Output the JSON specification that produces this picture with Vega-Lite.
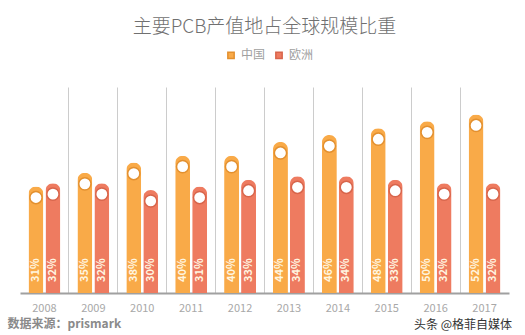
{
  "$schema": "https://vega.github.io/schema/vega-lite/v6.json",
  "width": 489,
  "height": 206,
  "autosize": {"type": "none"},
  "padding": {"left": 20, "top": 87, "right": 16, "bottom": 42},
  "background": "white",
  "config": {"view": {"stroke": null}, "font": "Noto Sans CJK SC"},
  "title": {
    "text": "主要PCB产值地占全球规模比重",
    "fontSize": 19,
    "fontWeight": 300,
    "color": "#707070",
    "anchor": "middle",
    "offset": 12,
    "font": "Noto Sans CJK SC"
  },
  "data": {
    "values": [
      {"year": "2008", "region": "中国", "value": 31},
      {"year": "2008", "region": "欧洲", "value": 32},
      {"year": "2009", "region": "中国", "value": 35},
      {"year": "2009", "region": "欧洲", "value": 32},
      {"year": "2010", "region": "中国", "value": 38},
      {"year": "2010", "region": "欧洲", "value": 30},
      {"year": "2011", "region": "中国", "value": 40},
      {"year": "2011", "region": "欧洲", "value": 31},
      {"year": "2012", "region": "中国", "value": 40},
      {"year": "2012", "region": "欧洲", "value": 33},
      {"year": "2013", "region": "中国", "value": 44},
      {"year": "2013", "region": "欧洲", "value": 34},
      {"year": "2014", "region": "中国", "value": 46},
      {"year": "2014", "region": "欧洲", "value": 34},
      {"year": "2015", "region": "中国", "value": 48},
      {"year": "2015", "region": "欧洲", "value": 33},
      {"year": "2016", "region": "中国", "value": 50},
      {"year": "2016", "region": "欧洲", "value": 32},
      {"year": "2017", "region": "中国", "value": 52},
      {"year": "2017", "region": "欧洲", "value": 32}
    ]
  },
  "encoding": {
    "x": {
      "field": "year",
      "type": "nominal",
      "scale": {"paddingInner": 0, "paddingOuter": 0},
      "axis": {
        "title": "数据来源：prismark",
        "titleX": -13,
        "titleY": 30,
        "titleAlign": "left",
        "titleBaseline": "middle",
        "titleFontSize": 12,
        "titleFontWeight": "bold",
        "titleColor": "#8a8a8a",
        "labelAngle": 0,
        "labelColor": "#a8a8a8",
        "labelFontSize": 11,
        "labelPadding": 9,
        "ticks": false,
        "domainColor": "#a0a0a0",
        "domainWidth": 2,
        "grid": true,
        "bandPosition": 0,
        "gridColor": "#cccccc",
        "gridOpacity": {"condition": {"test": "datum.value === '2008'", "value": 0}, "value": 1}
      }
    },
    "xOffset": {
      "field": "region",
      "type": "nominal",
      "scale": {"paddingInner": 0.12, "paddingOuter": 0.5}
    },
    "y": {
      "field": "value",
      "type": "quantitative",
      "scale": {"domain": [0, 60]},
      "axis": null
    }
  },
  "layer": [
    {
      "mark": {"type": "bar", "cornerRadiusTopLeft": 7.5, "cornerRadiusTopRight": 7.5},
      "encoding": {
        "color": {
          "field": "region",
          "type": "nominal",
          "scale": {"domain": ["中国", "欧洲"], "range": ["#F9AA48", "#EE7B60"]},
          "legend": {
            "title": null,
            "orient": "none",
            "direction": "horizontal",
            "legendX": 205,
            "legendY": -38,
            "symbolType": "square",
            "symbolSize": 40,
            "labelFontSize": 12,
            "labelColor": "#a0a0a0",
            "columnPadding": 6,
            "symbolOffset": 0
          }
        }
      }
    },
    {
      "mark": {"type": "point", "filled": true, "fill": "white", "size": 150, "strokeWidth": 1.5, "yOffset": 11, "opacity": 1},
      "encoding": {
        "stroke": {
          "field": "region",
          "type": "nominal",
          "scale": {"domain": ["中国", "欧洲"], "range": ["#E3902F", "#D8654B"]},
          "legend": null
        }
      }
    },
    {
      "mark": {
        "type": "text",
        "angle": 270,
        "align": "left",
        "baseline": "middle",
        "dx": 11,
        "color": "#FFF6E0",
        "fontSize": 11,
        "fontWeight": "bold",
        "text": {"expr": "datum.value + '%'"}
      },
      "encoding": {
        "y": {"datum": 0}
      }
    },
    {
      "transform": [{"filter": "datum.year === '2017' && datum.region === '欧洲'"}],
      "mark": {
        "type": "text",
        "text": "头条 @格菲自媒体",
        "align": "right",
        "baseline": "middle",
        "dx": 19,
        "dy": 32,
        "fontSize": 12,
        "color": "#333333"
      },
      "encoding": {
        "y": {"datum": 0}
      }
    }
  ]
}
